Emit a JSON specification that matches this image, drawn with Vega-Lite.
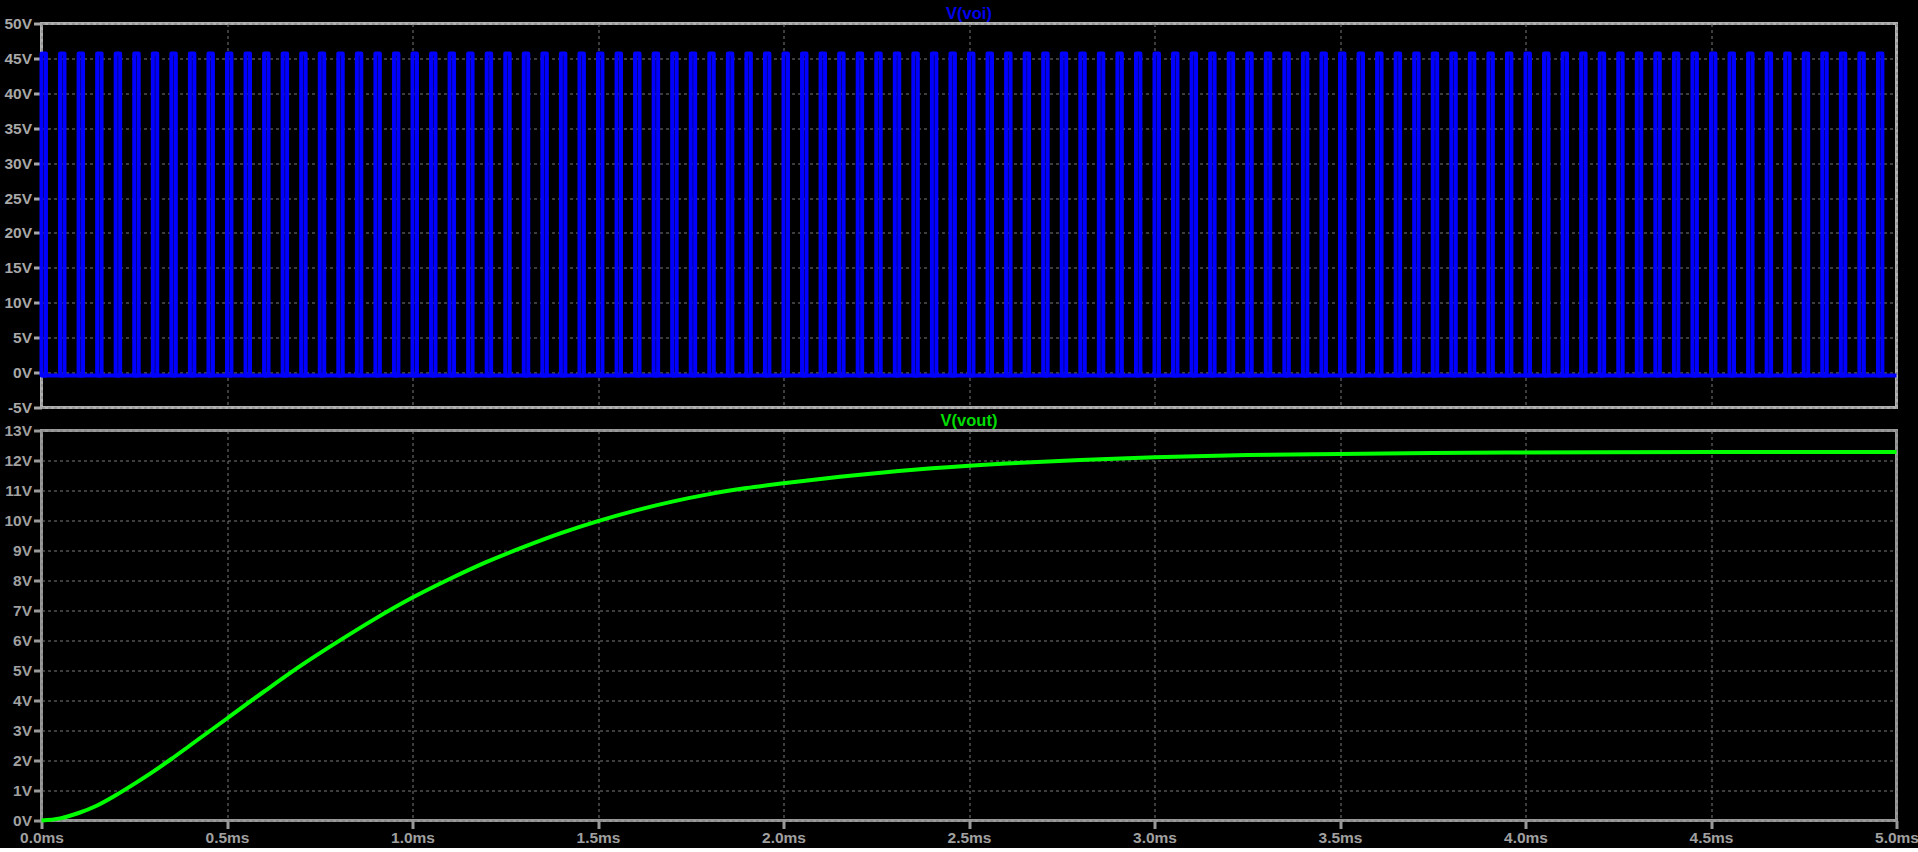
{
  "$schema": "https://vega.github.io/schema/vega-lite/v6.json",
  "background": "#000000",
  "padding": {"left": 1.5, "top": 4.5, "right": 0, "bottom": 0},
  "spacing": -6,
  "config": {
    "font": "Liberation Sans",
    "axis": {"labelFont": "Liberation Sans", "labelFontSize": 15.5, "labelFontWeight": "bold", "labelColor": "#a8a8a8", "tickColor": "#a8a8a8", "tickWidth": 3, "tickSize": 8, "domain": false, "gridColor": "#7a7a7a", "gridDash": [3, 3], "gridWidth": 1, "gridOpacity": 1, "title": null, "labelPadding": 2, "labelOverlap": false, "labelFlush": false},
    "title": {"font": "Liberation Sans", "fontSize": 16.5, "fontWeight": "bold", "anchor": "middle", "offset": -6}
  },
  "datasets": {
    "base": [{"t": 0, "v": -0.4}, {"t": 5, "v": -0.4}],
    "pulses": [
      {"r":0,"f":0.012,"l":-0.4,"h":45.7},{"r":0.05,"f":0.062,"l":-0.4,"h":45.7},{"r":0.1,"f":0.112,"l":-0.4,"h":45.7},{"r":0.15,"f":0.162,"l":-0.4,"h":45.7},{"r":0.2,"f":0.212,"l":-0.4,"h":45.7},
      {"r":0.25,"f":0.262,"l":-0.4,"h":45.7},{"r":0.3,"f":0.312,"l":-0.4,"h":45.7},{"r":0.35,"f":0.362,"l":-0.4,"h":45.7},{"r":0.4,"f":0.412,"l":-0.4,"h":45.7},{"r":0.45,"f":0.462,"l":-0.4,"h":45.7},
      {"r":0.5,"f":0.512,"l":-0.4,"h":45.7},{"r":0.55,"f":0.562,"l":-0.4,"h":45.7},{"r":0.6,"f":0.612,"l":-0.4,"h":45.7},{"r":0.65,"f":0.662,"l":-0.4,"h":45.7},{"r":0.7,"f":0.712,"l":-0.4,"h":45.7},
      {"r":0.75,"f":0.762,"l":-0.4,"h":45.7},{"r":0.8,"f":0.812,"l":-0.4,"h":45.7},{"r":0.85,"f":0.862,"l":-0.4,"h":45.7},{"r":0.9,"f":0.912,"l":-0.4,"h":45.7},{"r":0.95,"f":0.962,"l":-0.4,"h":45.7},
      {"r":1.0,"f":1.012,"l":-0.4,"h":45.7},{"r":1.05,"f":1.062,"l":-0.4,"h":45.7},{"r":1.1,"f":1.112,"l":-0.4,"h":45.7},{"r":1.15,"f":1.162,"l":-0.4,"h":45.7},{"r":1.2,"f":1.212,"l":-0.4,"h":45.7},
      {"r":1.25,"f":1.262,"l":-0.4,"h":45.7},{"r":1.3,"f":1.312,"l":-0.4,"h":45.7},{"r":1.35,"f":1.362,"l":-0.4,"h":45.7},{"r":1.4,"f":1.412,"l":-0.4,"h":45.7},{"r":1.45,"f":1.462,"l":-0.4,"h":45.7},
      {"r":1.5,"f":1.512,"l":-0.4,"h":45.7},{"r":1.55,"f":1.562,"l":-0.4,"h":45.7},{"r":1.6,"f":1.612,"l":-0.4,"h":45.7},{"r":1.65,"f":1.662,"l":-0.4,"h":45.7},{"r":1.7,"f":1.712,"l":-0.4,"h":45.7},
      {"r":1.75,"f":1.762,"l":-0.4,"h":45.7},{"r":1.8,"f":1.812,"l":-0.4,"h":45.7},{"r":1.85,"f":1.862,"l":-0.4,"h":45.7},{"r":1.9,"f":1.912,"l":-0.4,"h":45.7},{"r":1.95,"f":1.962,"l":-0.4,"h":45.7},
      {"r":2.0,"f":2.012,"l":-0.4,"h":45.7},{"r":2.05,"f":2.062,"l":-0.4,"h":45.7},{"r":2.1,"f":2.112,"l":-0.4,"h":45.7},{"r":2.15,"f":2.162,"l":-0.4,"h":45.7},{"r":2.2,"f":2.212,"l":-0.4,"h":45.7},
      {"r":2.25,"f":2.262,"l":-0.4,"h":45.7},{"r":2.3,"f":2.312,"l":-0.4,"h":45.7},{"r":2.35,"f":2.362,"l":-0.4,"h":45.7},{"r":2.4,"f":2.412,"l":-0.4,"h":45.7},{"r":2.45,"f":2.462,"l":-0.4,"h":45.7},
      {"r":2.5,"f":2.512,"l":-0.4,"h":45.7},{"r":2.55,"f":2.562,"l":-0.4,"h":45.7},{"r":2.6,"f":2.612,"l":-0.4,"h":45.7},{"r":2.65,"f":2.662,"l":-0.4,"h":45.7},{"r":2.7,"f":2.712,"l":-0.4,"h":45.7},
      {"r":2.75,"f":2.762,"l":-0.4,"h":45.7},{"r":2.8,"f":2.812,"l":-0.4,"h":45.7},{"r":2.85,"f":2.862,"l":-0.4,"h":45.7},{"r":2.9,"f":2.912,"l":-0.4,"h":45.7},{"r":2.95,"f":2.962,"l":-0.4,"h":45.7},
      {"r":3.0,"f":3.012,"l":-0.4,"h":45.7},{"r":3.05,"f":3.062,"l":-0.4,"h":45.7},{"r":3.1,"f":3.112,"l":-0.4,"h":45.7},{"r":3.15,"f":3.162,"l":-0.4,"h":45.7},{"r":3.2,"f":3.212,"l":-0.4,"h":45.7},
      {"r":3.25,"f":3.262,"l":-0.4,"h":45.7},{"r":3.3,"f":3.312,"l":-0.4,"h":45.7},{"r":3.35,"f":3.362,"l":-0.4,"h":45.7},{"r":3.4,"f":3.412,"l":-0.4,"h":45.7},{"r":3.45,"f":3.462,"l":-0.4,"h":45.7},
      {"r":3.5,"f":3.512,"l":-0.4,"h":45.7},{"r":3.55,"f":3.562,"l":-0.4,"h":45.7},{"r":3.6,"f":3.612,"l":-0.4,"h":45.7},{"r":3.65,"f":3.662,"l":-0.4,"h":45.7},{"r":3.7,"f":3.712,"l":-0.4,"h":45.7},
      {"r":3.75,"f":3.762,"l":-0.4,"h":45.7},{"r":3.8,"f":3.812,"l":-0.4,"h":45.7},{"r":3.85,"f":3.862,"l":-0.4,"h":45.7},{"r":3.9,"f":3.912,"l":-0.4,"h":45.7},{"r":3.95,"f":3.962,"l":-0.4,"h":45.7},
      {"r":4.0,"f":4.012,"l":-0.4,"h":45.7},{"r":4.05,"f":4.062,"l":-0.4,"h":45.7},{"r":4.1,"f":4.112,"l":-0.4,"h":45.7},{"r":4.15,"f":4.162,"l":-0.4,"h":45.7},{"r":4.2,"f":4.212,"l":-0.4,"h":45.7},
      {"r":4.25,"f":4.262,"l":-0.4,"h":45.7},{"r":4.3,"f":4.312,"l":-0.4,"h":45.7},{"r":4.35,"f":4.362,"l":-0.4,"h":45.7},{"r":4.4,"f":4.412,"l":-0.4,"h":45.7},{"r":4.45,"f":4.462,"l":-0.4,"h":45.7},
      {"r":4.5,"f":4.512,"l":-0.4,"h":45.7},{"r":4.55,"f":4.562,"l":-0.4,"h":45.7},{"r":4.6,"f":4.612,"l":-0.4,"h":45.7},{"r":4.65,"f":4.662,"l":-0.4,"h":45.7},{"r":4.7,"f":4.712,"l":-0.4,"h":45.7},
      {"r":4.75,"f":4.762,"l":-0.4,"h":45.7},{"r":4.8,"f":4.812,"l":-0.4,"h":45.7},{"r":4.85,"f":4.862,"l":-0.4,"h":45.7},{"r":4.9,"f":4.912,"l":-0.4,"h":45.7},{"r":4.95,"f":4.962,"l":-0.4,"h":45.7}
    ],
    "vout": [
      {"t":0,"v":0},{"t":0.05,"v":0.07},{"t":0.1,"v":0.25},{"t":0.15,"v":0.5},{"t":0.2,"v":0.84},{"t":0.25,"v":1.22},{"t":0.3,"v":1.62},{"t":0.35,"v":2.05},{"t":0.4,"v":2.5},{"t":0.45,"v":2.95},{"t":0.5,"v":3.4},{"t":0.6,"v":4.3},{"t":0.7,"v":5.17},{"t":0.8,"v":5.97},{"t":0.9,"v":6.73},{"t":1.0,"v":7.43},{"t":1.1,"v":8.05},{"t":1.2,"v":8.62},{"t":1.3,"v":9.12},{"t":1.4,"v":9.58},{"t":1.5,"v":9.98},{"t":1.6,"v":10.33},{"t":1.7,"v":10.63},{"t":1.8,"v":10.88},{"t":1.9,"v":11.08},{"t":2.0,"v":11.24},{"t":2.2,"v":11.52},{"t":2.4,"v":11.74},{"t":2.6,"v":11.9},{"t":2.8,"v":12.02},{"t":3.0,"v":12.11},{"t":3.25,"v":12.18},{"t":3.5,"v":12.22},{"t":3.75,"v":12.25},{"t":4.0,"v":12.27},{"t":4.5,"v":12.28},{"t":5.0,"v":12.28}
    ]
  },
  "vconcat": [
    {
      "width": 1855,
      "height": 384,
      "title": {"text": "V(voi)", "color": "#0000ee"},
      "view": {"stroke": "#b0b0b0", "strokeWidth": 3},
      "layer": [
        {
          "data": {"name": "base"},
          "mark": {"type": "line", "color": "#0000ff", "strokeWidth": 4},
          "encoding": {
            "x": {"field": "t", "type": "quantitative", "scale": {"domain": [0, 5], "nice": false}, "axis": {"values": [0, 0.5, 1, 1.5, 2, 2.5, 3, 3.5, 4, 4.5, 5], "labels": false, "ticks": false}},
            "y": {"field": "v", "type": "quantitative", "scale": {"domain": [-5, 50], "nice": false, "zero": false}, "axis": {"values": [-5, 0, 5, 10, 15, 20, 25, 30, 35, 40, 45, 50], "labelExpr": "datum.value + 'V'", "labelOverlap": false, "labelFlush": false}}
          }
        },
        {
          "data": {"name": "pulses"},
          "mark": {"type": "rect", "filled": false, "stroke": "#0000ff", "strokeWidth": 4, "strokeJoin": "round"},
          "encoding": {
            "x": {"field": "r", "type": "quantitative"},
            "x2": {"field": "f"},
            "y": {"field": "l", "type": "quantitative", "axis": {"values": [-5, 0, 5, 10, 15, 20, 25, 30, 35, 40, 45, 50], "labelExpr": "datum.value + 'V'", "labelOverlap": false, "labelFlush": false}},
            "y2": {"field": "h"}
          }
        }
      ]
    },
    {
      "width": 1855,
      "height": 390,
      "title": {"text": "V(vout)", "color": "#00dd00"},
      "view": {"stroke": "#999999", "strokeWidth": 3},
      "data": {"name": "vout"},
      "mark": {"type": "line", "color": "#00ff00", "strokeWidth": 4, "interpolate": "monotone"},
      "encoding": {
        "x": {"field": "t", "type": "quantitative", "scale": {"domain": [0, 5], "nice": false}, "axis": {"values": [0, 0.5, 1, 1.5, 2, 2.5, 3, 3.5, 4, 4.5, 5], "labelExpr": "format(datum.value, '.1f') + 'ms'", "labelColor": "#a0a0a0", "tickColor": "#999999", "labelOverlap": false}},
        "y": {"field": "v", "type": "quantitative", "scale": {"domain": [0, 13], "nice": false}, "axis": {"values": [0, 1, 2, 3, 4, 5, 6, 7, 8, 9, 10, 11, 12, 13], "labelExpr": "datum.value + 'V'", "labelColor": "#a0a0a0", "tickColor": "#999999", "labelOverlap": false}}
      }
    }
  ]
}
